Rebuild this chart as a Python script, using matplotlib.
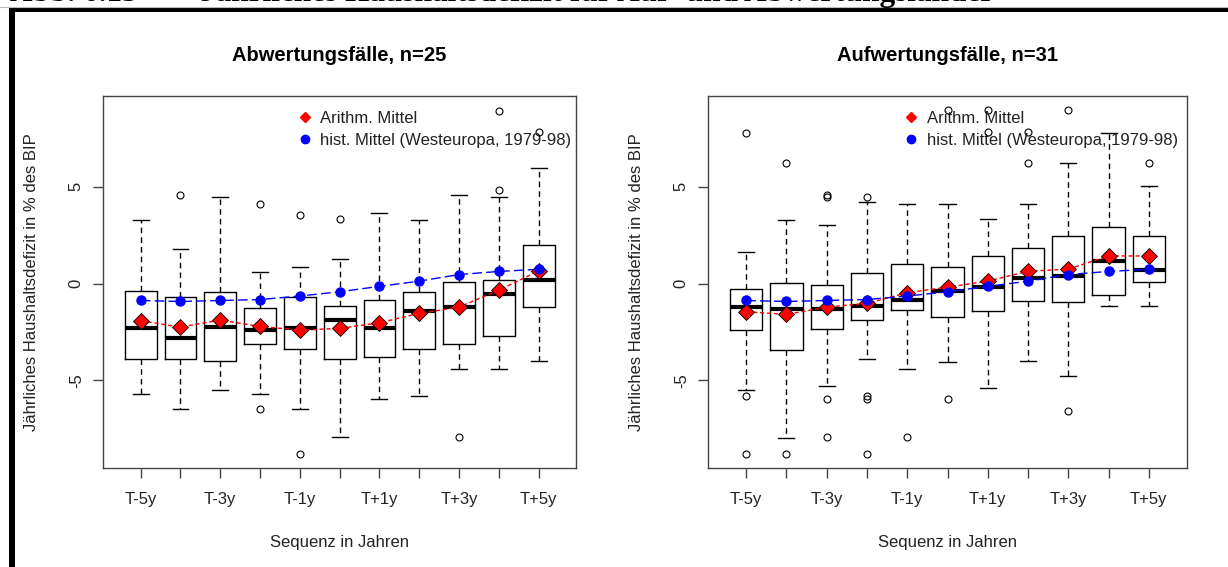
import matplotlib
matplotlib.use('Agg')
import matplotlib.pyplot as plt
from matplotlib.lines import Line2D
from matplotlib.patches import Rectangle

plt.rcParams['font.family'] = ['Liberation Sans', 'DejaVu Sans']

# Sequenz (T-5y ... T+5y)
seq_labels = ['T-5y', 'T-4y', 'T-3y', 'T-2y', 'T-1y', 'T', 'T+1y', 'T+2y', 'T+3y', 'T+4y', 'T+5y']

# historisches Mittel (Westeuropa, 1979-98), gleich fuer beide Panels
hist_mean = [-0.87, -0.92, -0.87, -0.82, -0.64, -0.42, -0.14, 0.13, 0.47, 0.63, 0.74]

# Abwertungsfaelle, n=25
ab_q1 = [-3.89, -3.89, -4.01, -3.14, -3.39, -3.89, -3.79, -3.39, -3.14, -2.69, -1.19]
ab_med = [-2.29, -2.81, -2.24, -2.41, -2.28, -1.90, -2.28, -1.40, -1.19, -0.52, 0.18]
ab_q3 = [-0.37, -0.70, -0.42, -1.26, -0.71, -1.14, -0.82, -0.42, 0.08, 0.18, 1.97]
ab_lo = [-5.68, -6.45, -5.51, -5.68, -6.45, -7.93, -5.94, -5.78, -4.39, -4.39, -4.01]
ab_hi = [3.27, 1.78, 4.47, 0.61, 0.85, 1.26, 3.65, 3.27, 4.60, 4.47, 5.99]
ab_out = [[], [4.60], [], [4.10, -6.45], [3.55, -8.81], [3.34], [], [], [-7.93], [8.94, 4.82], [7.81]]
ab_mean = [-1.92, -2.24, -1.88, -2.21, -2.40, -2.31, -2.02, -1.54, -1.21, -0.34, 0.66]

# Aufwertungsfaelle, n=31
auf_q1 = [-2.41, -3.44, -2.36, -1.86, -1.38, -1.71, -1.42, -0.89, -0.97, -0.59, 0.06]
auf_med = [-1.19, -1.31, -1.31, -1.14, -0.82, -0.37, -0.15, 0.30, 0.42, 1.18, 0.68]
auf_q3 = [-0.27, 0.01, -0.09, 0.56, 1.00, 0.85, 1.45, 1.85, 2.48, 2.90, 2.48]
auf_lo = [-5.49, -7.95, -5.28, -3.89, -4.39, -4.06, -5.39, -4.01, -4.78, -1.14, -1.14]
auf_hi = [1.61, 3.27, 3.03, 4.20, 4.13, 4.13, 3.32, 4.13, 6.21, 7.79, 5.04]
auf_out = [[7.79, -5.78, -8.81], [6.21, -8.81], [4.60, 4.47, -5.95, -7.93],
           [4.47, -5.78, -5.95, -8.81], [-7.93], [8.98, -5.95], [8.98, 7.83],
           [7.83, 6.21], [8.98, -6.56], [], [6.21]]
auf_mean = [-1.45, -1.59, -1.21, -1.02, -0.47, -0.18, 0.13, 0.64, 0.75, 1.43, 1.43]

W, H = 1228, 567
fig = plt.figure(figsize=(W / 100, H / 100), dpi=100)
fig.patch.set_facecolor('white')


def px_axes(x0, x1, y0, y1):
    return fig.add_axes([x0 / W, 1 - y1 / H, (x1 - x0) / W, (y1 - y0) / H])


def panel(ax, q1, med, q3, lo, hi, out, mean, title, leg_x):
    pos = list(range(1, len(seq_labels) + 1))
    stats = []
    for i in range(len(pos)):
        stats.append(dict(med=med[i], q1=q1[i], q3=q3[i], whislo=lo[i], whishi=hi[i], fliers=out[i]))
    ax.bxp(stats, positions=pos, widths=0.8, capwidths=0.4, showfliers=True,
           boxprops=dict(color='black', lw=1),
           medianprops=dict(color='black', lw=3, solid_capstyle='butt'),
           whiskerprops=dict(color='black', lw=1, linestyle=(0, (4, 3))),
           capprops=dict(color='black', lw=1),
           flierprops=dict(marker='o', markerfacecolor='none', markeredgecolor='black',
                           markersize=5, markeredgewidth=0.8))
    ax.plot(pos, mean, color='red', lw=1, dashes=(3, 2), zorder=4)
    ax.plot(pos, hist_mean, color='blue', lw=1, dashes=(7, 3), zorder=4)
    ax.plot(pos, mean, linestyle='none', marker='D', mfc='red', mec='black', mew=0.6,
            markersize=8, zorder=5)
    ax.plot(pos, hist_mean, linestyle='none', marker='o', color='blue', markersize=6.5, zorder=6)

    ax.set_xlim(0.06, 11.94)
    ax.set_ylim(-9.52, 9.69)
    ax.set_xticks(pos)
    ax.set_xticklabels([l if i % 2 == 0 else '' for i, l in enumerate(seq_labels)], fontsize=12)
    ax.set_yticks([-5, 0, 5])
    ax.set_yticklabels(['-5', '0', '5'], fontsize=12, rotation=90, va='center')
    ax.tick_params(axis='x', length=7, width=1, color='#444444', pad=10, labelcolor='#222222')
    ax.tick_params(axis='y', length=7, width=1, color='#444444', pad=7, labelcolor='#222222')
    for s in ax.spines.values():
        s.set_color('#444444')
        s.set_linewidth(1)

    ax.text(0.5, 1.110, title, transform=ax.transAxes, ha='center', va='center',
            fontsize=14.5, fontweight='bold', color='black')
    ax.text(0.5, -0.2, 'Sequenz in Jahren', transform=ax.transAxes, ha='center', va='center',
            fontsize=12, color='#222222')
    ax.text(-0.151, 0.5, 'Jährliches Haushaltsdefizit in % des BIP', transform=ax.transAxes,
            ha='center', va='center', rotation=90, fontsize=12, color='#222222')

    handles = [Line2D([], [], linestyle='none', marker='D', color='red', markersize=5),
               Line2D([], [], linestyle='none', marker='o', color='blue', markersize=6)]
    ax.legend(handles, ['Arithm. Mittel', 'hist. Mittel (Westeuropa, 1979-98)'],
              loc='upper left', bbox_to_anchor=(leg_x, 0.960), frameon=False,
              borderaxespad=0, borderpad=0, handlelength=1, handletextpad=0.42,
              labelspacing=0.4, fontsize=12, labelcolor='#222222')


ax1 = px_axes(103.3, 576, 96, 468)
panel(ax1, ab_q1, ab_med, ab_q3, ab_lo, ab_hi, ab_out, ab_mean, 'Abwertungsfälle, n=25', 0.409)
ax2 = px_axes(708.3, 1186.7, 96, 468)
panel(ax2, auf_q1, auf_med, auf_q3, auf_lo, auf_hi, auf_out, auf_mean, 'Aufwertungsfälle, n=31', 0.407)

# Seitenrahmen und abgeschnittene Ueberschrift
fig.add_artist(Rectangle((9 / W, 0), 6 / W, 1 - 8 / H, transform=fig.transFigure,
                         facecolor='black', edgecolor='none'))
fig.add_artist(Rectangle((9 / W, 1 - 12 / H), 1, 4 / H, transform=fig.transFigure,
                         facecolor='black', edgecolor='none'))
fig.add_artist(Line2D([0, 1], [1 - 6.5 / H, 1 - 6.5 / H], transform=fig.transFigure,
                      color='#bbbbbb', lw=0.8))
fig.text(10 / W, 1 - 1.3 / H, 'Abb. 6.13', fontsize=22.5, fontweight='bold',
         family=['Liberation Serif', 'DejaVu Serif'], va='baseline', ha='left')
fig.text(200 / W, 1 - 1.3 / H, 'Jährliches Haushaltsdefizit für Auf- und Abwertungsländer',
         fontsize=22.5, fontweight='bold', family=['Liberation Serif', 'DejaVu Serif'],
         va='baseline', ha='left')

fig.savefig('out.png', dpi=100)
